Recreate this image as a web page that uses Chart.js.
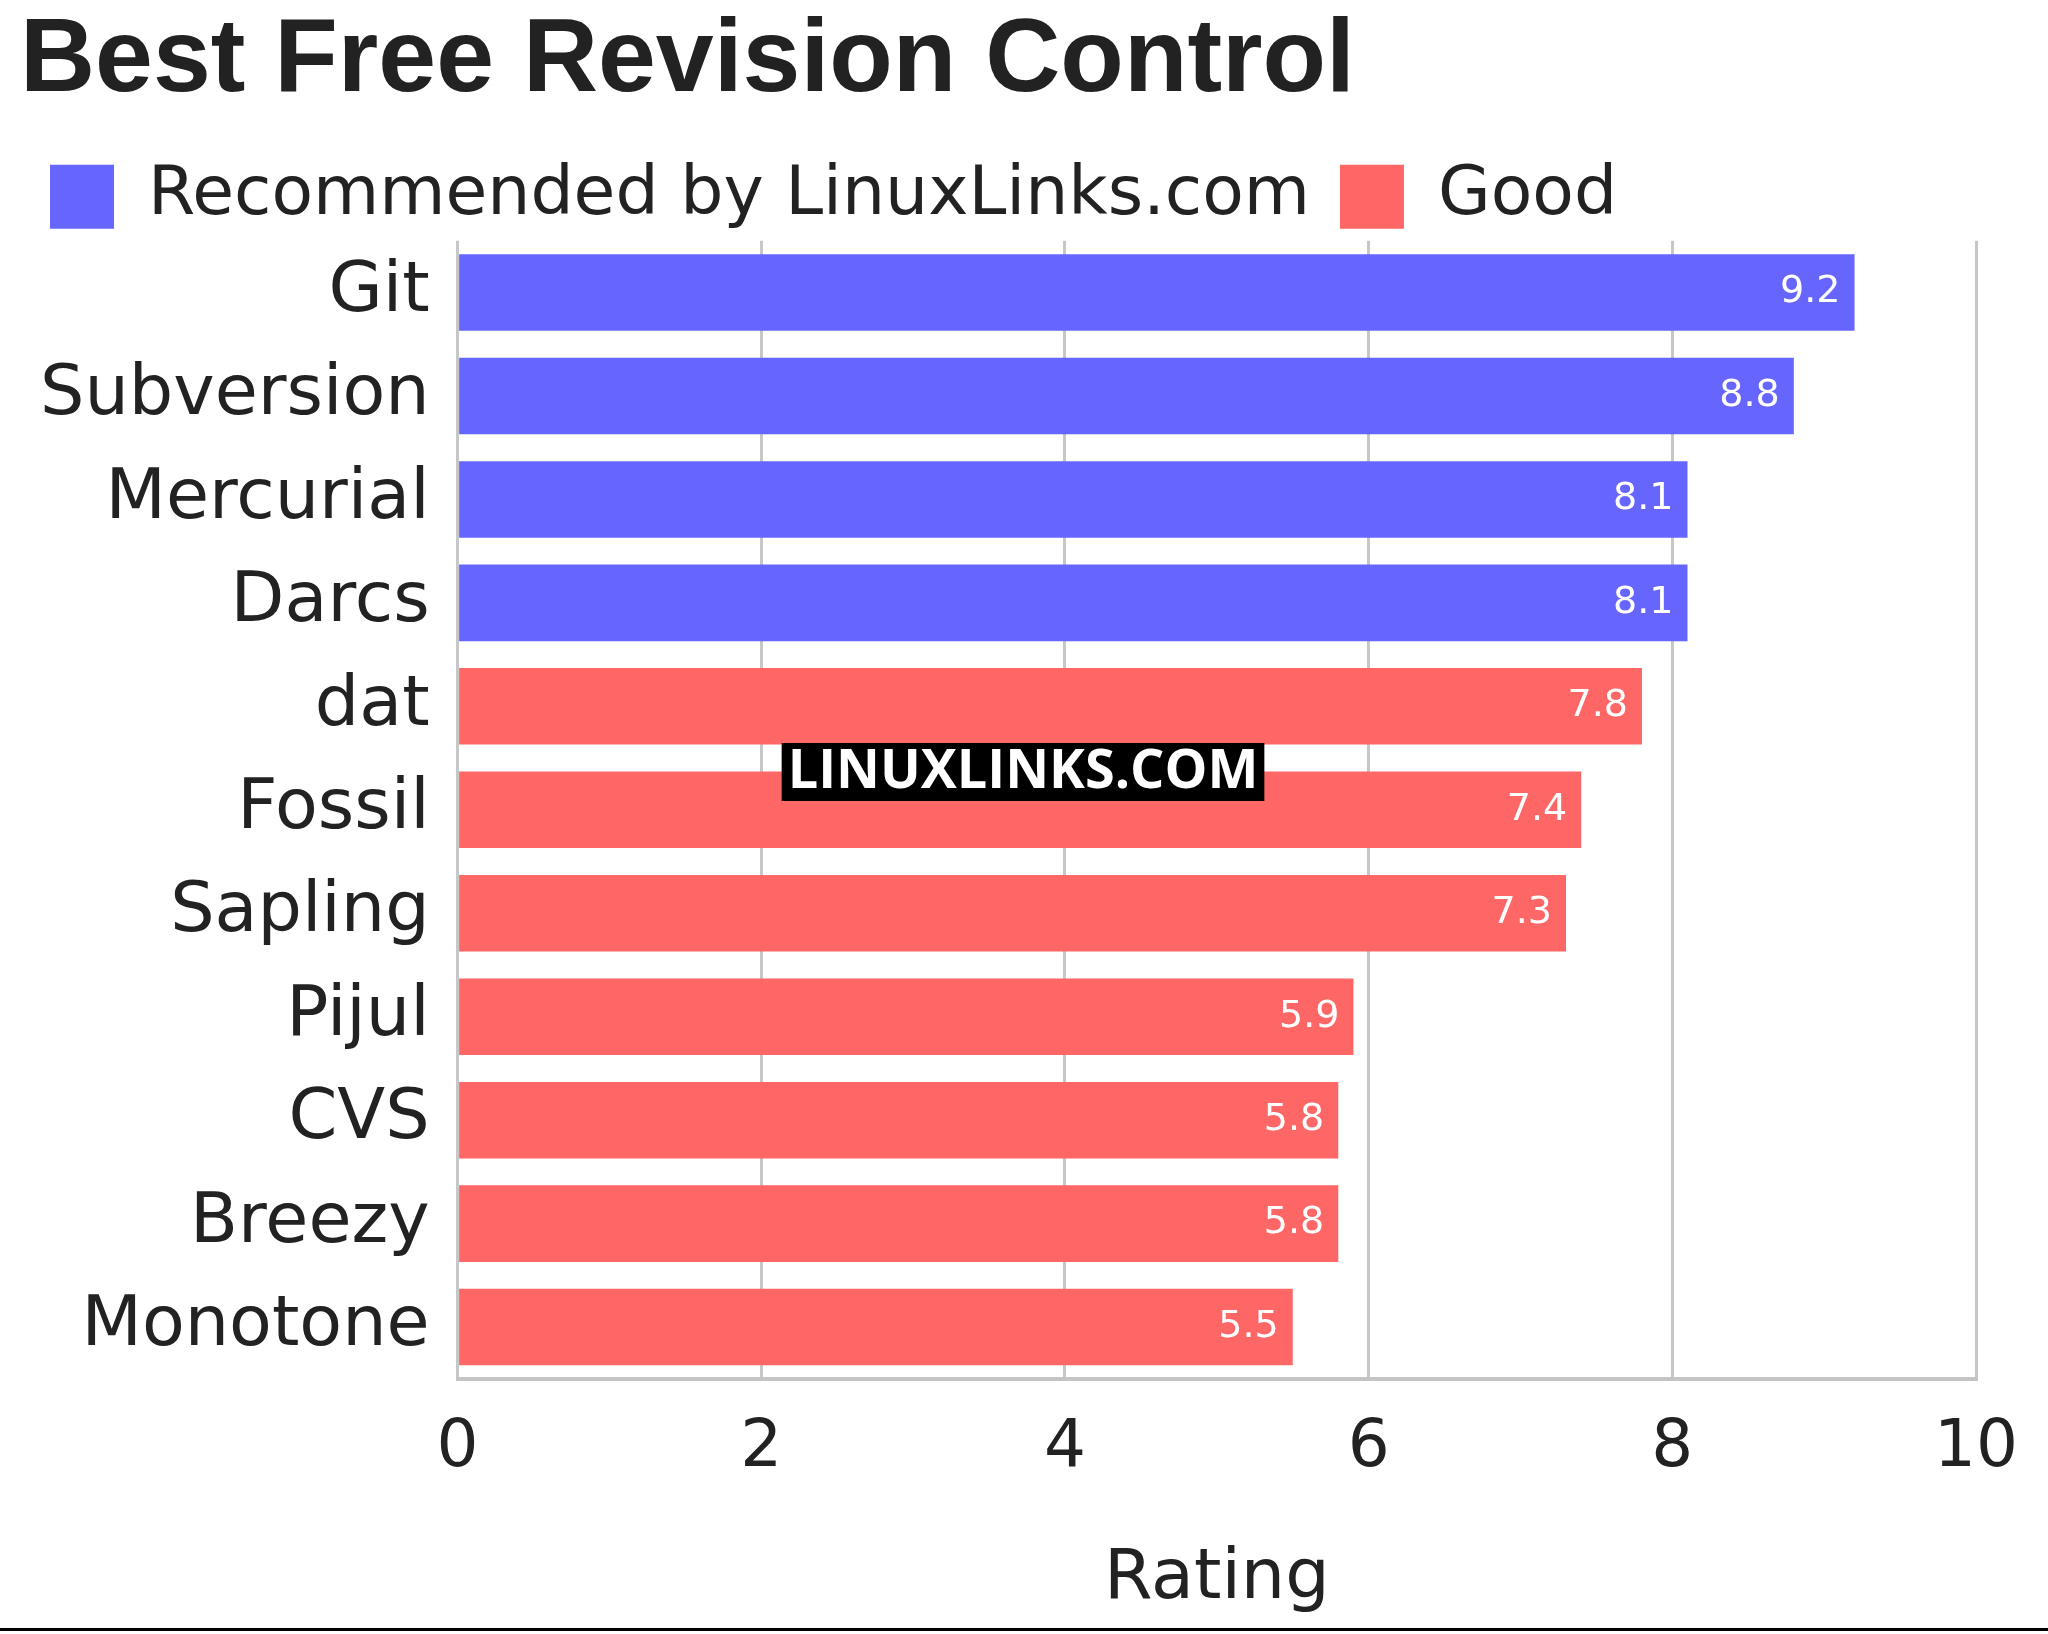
<!DOCTYPE html>
<html>
<head>
<meta charset="utf-8">
<script src="https://cdn.jsdelivr.net/npm/chart.js@4"></script>
<style>
  body { margin: 0; background: white; }
  #wrap { width: 2048px; height: 1634px; position: relative; }
</style>
</head>
<body>
<div id="wrap"><canvas id="grafico" width="2048" height="1634"></canvas></div>
<script>
const categorias = ['Git', 'Subversion', 'Mercurial', 'Darcs', 'dat', 'Fossil', 'Sapling', 'Pijul', 'CVS', 'Breezy', 'Monotone'];
const recomendado = [9.2, 8.8, 8.1, 8.1, null, null, null, null, null, null, null];
const bom = [null, null, null, null, 7.8, 7.4, 7.3, 5.9, 5.8, 5.8, 5.5];
const ticksX = [0, 2, 4, 6, 8, 10];

const fonte = 'DejaVu Sans';

// rótulos dentro das barras + marca d'água + linha de baixo
const extras = {
  id: 'extras',
  afterDatasetsDraw(chart) {
    const ctx = chart.ctx;
    ctx.save();
    ctx.fillStyle = 'white';
    ctx.font = '38px "' + fonte + '"';
    ctx.textAlign = 'right';
    ctx.textBaseline = 'middle';
    chart.data.datasets.forEach((ds, i) => {
      chart.getDatasetMeta(i).data.forEach((bar, j) => {
        if (ds.data[j] == null) return;
        ctx.fillText(ds.data[j].toFixed(1), bar.x - 14, bar.y);
      });
    });
    ctx.restore();
  },
  afterDraw(chart) {
    const ctx = chart.ctx;
    ctx.save();
    ctx.font = 'bold 54px "Open Sans"';
    ctx.textAlign = 'center';
    ctx.textBaseline = 'middle';
    const txt = 'LINUXLINKS.COM';
    const w = ctx.measureText(txt).width + 12;
    ctx.fillStyle = 'black';
    ctx.fillRect(1023 - w / 2, 743, w, 58);
    ctx.fillStyle = 'white';
    ctx.fillText(txt, 1023, 773);
    ctx.fillStyle = 'black';
    ctx.fillRect(0, 1628, 2048, 3);
    ctx.restore();
  }
};

const grafico = document.getElementById('grafico');
new Chart(grafico, {
  type: 'bar',
  data: {
    labels: categorias,
    datasets: [
      {
        label: 'Recommended by LinuxLinks.com',
        data: recomendado,
        backgroundColor: '#6666ff',
        categoryPercentage: 1,
        barPercentage: 0.74
      },
      {
        label: 'Good',
        data: bom,
        backgroundColor: '#ff6666',
        categoryPercentage: 1,
        barPercentage: 0.74
      }
    ]
  },
  options: {
    indexAxis: 'y',
    responsive: false,
    animation: false,
    devicePixelRatio: 1,
    layout: { padding: { left: 20, right: 20, top: 0, bottom: 12 } },
    plugins: {
      title: {
        display: true,
        text: 'Best Free Revision Control',
        align: 'start',
        color: '#222',
        font: { family: 'Liberation Sans', size: 104, weight: 'bold' },
        padding: { top: 0, bottom: 8 }
      },
      legend: {
        align: 'start',
        labels: {
          color: '#222',
          font: { family: fonte, size: 68 },
          boxWidth: 64,
          boxHeight: 64,
          padding: 30
        }
      },
      tooltip: { enabled: false }
    },
    scales: {
      x: {
        min: 0,
        max: 10,
        z: 1,
        afterBuildTicks: (ax) => { ax.ticks = ticksX.map(v => ({ value: v })); },
        grid: { color: 'rgba(0,0,0,0.22)', lineWidth: 3, drawTicks: false },
        border: { color: '#c4c4c4', width: 4 },
        ticks: { color: '#222', font: { family: fonte, size: 66 }, padding: 30 },
        title: {
          display: true,
          text: 'Rating',
          color: '#222',
          font: { family: fonte, size: 70 },
          padding: { top: 20, bottom: 0 }
        }
      },
      y: {
        stacked: true,
        grid: { display: false },
        border: { display: false },
        ticks: { color: '#222', font: { family: fonte, size: 70 }, padding: 20 }
      }
    }
  },
  plugins: [extras]
});
</script>
</body>
</html>
